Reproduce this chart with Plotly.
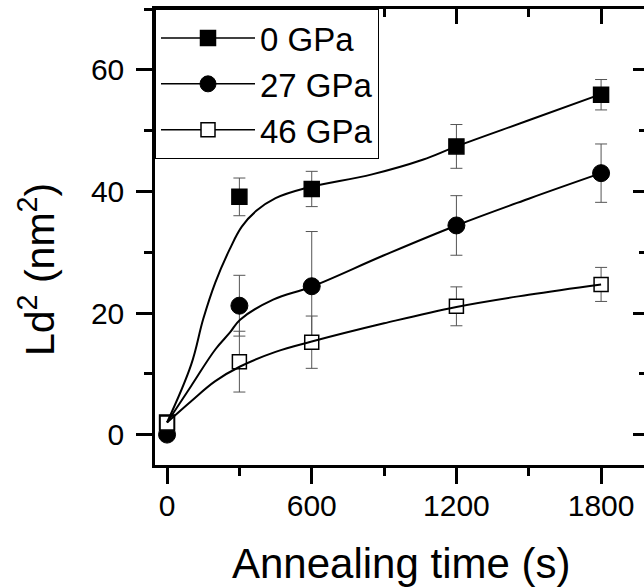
import plotly.graph_objects as go

# ---- data ----
series_names = ["0 GPa", "27 GPa", "46 GPa"]
time_s = [0, 300, 600, 1200, 1800]

ld2_0gpa = [2.0, 39.1, 40.4, 47.4, 55.9]
err_0gpa = [0.0, 3.1, 2.9, 3.6, 2.5]
ld2_27gpa = [0.0, 21.2, 24.4, 34.4, 43.0]
err_27gpa = [0.0, 5.0, 9.0, 4.9, 4.8]
ld2_46gpa = [1.9, 12.0, 15.2, 21.1, 24.7]
err_46gpa = [0.0, 5.0, 4.3, 3.2, 2.8]

# fitted guide curves
fit_x_0gpa = [0, 100, 150, 200, 260, 310, 370, 450, 580, 850, 1060, 1200, 1500, 1800]
fit_y_0gpa = [2, 11.5, 19, 25, 30.5, 34.2, 36.8, 38.9, 40.6, 42.8, 45.2, 47.4, 51.7, 56]
fit_x_27gpa = [0, 100, 200, 261, 303, 440, 597, 900, 1200, 1500, 1800]
fit_y_27gpa = [2, 8, 14, 16.8, 18.9, 22.2, 24.3, 29.5, 34.4, 38.8, 43]
fit_x_46gpa = [0, 100, 200, 303, 450, 600, 900, 1200, 1500, 1800]
fit_y_46gpa = [2, 5.5, 8.8, 11.2, 13.6, 15.3, 18.3, 21, 23, 24.7]

x_ticks = [0, 600, 1200, 1800]
y_ticks = [0, 20, 40, 60]

FONT = "Liberation Sans, Arial, sans-serif"
ERR_COLOR = "#555555"

styles = [
    dict(symbol="square", size=15, color="black", line=dict(color="black", width=1.5)),
    dict(symbol="circle", size=17, color="black", line=dict(color="black", width=1)),
    dict(symbol="square", size=14, color="white", line=dict(color="black", width=1.5)),
]
ys = [ld2_0gpa, ld2_27gpa, ld2_46gpa]
errs = [err_0gpa, err_27gpa, err_46gpa]
fits = [(fit_x_0gpa, fit_y_0gpa), (fit_x_27gpa, fit_y_27gpa), (fit_x_46gpa, fit_y_46gpa)]

fig = go.Figure()

# markers with error bars
for name, y, e, st in zip(series_names, ys, errs, styles):
    fig.add_trace(go.Scatter(
        x=time_s, y=y, mode="markers", marker=st, showlegend=False,
        error_y=dict(type="data", array=e, visible=True, color=ERR_COLOR, thickness=1, width=6),
        cliponaxis=False,
    ))

# fitted curves
for (fx, fy) in fits:
    fig.add_trace(go.Scatter(
        x=fx, y=fy, mode="lines", line=dict(color="black", width=2, shape="spline", smoothing=1.1),
        showlegend=False, hoverinfo="skip",
    ))

# legend entries
for name, st in zip(series_names, styles):
    fig.add_trace(go.Scatter(
        x=[None], y=[None], mode="lines+markers", name=name,
        marker=st, line=dict(color="black", width=1.5),
    ))

# invisible trace on mirrored axes so they render
fig.add_trace(go.Scatter(x=[None], y=[None], xaxis="x2", yaxis="y2", showlegend=False))

fig.update_layout(
    width=644, height=588,
    margin=dict(l=155, r=0, t=9, b=123),
    paper_bgcolor="white", plot_bgcolor="white",
    font=dict(family=FONT, color="black", size=30),
    showlegend=True,
    legend=dict(
        x=0, y=1, xanchor="left", yanchor="top",
        bgcolor="white", bordercolor="black", borderwidth=1,
        font=dict(size=33, family=FONT), itemwidth=94,
        tracegroupgap=0,
    ),
    xaxis=dict(
        range=[-50, 1978], tickvals=x_ticks, showgrid=False, zeroline=False,
        showline=True, linecolor="black", linewidth=2.5,
        ticks="outside", ticklen=16, tickwidth=2.5, tickcolor="black",
        tickfont=dict(size=30, family=FONT), ticklabelstandoff=-4,
        minor=dict(dtick=300, tick0=0, ticks="outside", ticklen=8, tickwidth=2.5, tickcolor="black", showgrid=False),
    ),
    yaxis=dict(
        range=[-5, 70], tickvals=y_ticks, showgrid=False, zeroline=False,
        showline=True, linecolor="black", linewidth=2.5,
        ticks="outside", ticklen=16, tickwidth=2.5, tickcolor="black",
        tickfont=dict(size=30, family=FONT), ticklabelstandoff=6,
        minor=dict(dtick=10, tick0=0, ticks="outside", ticklen=8, tickwidth=2.5, tickcolor="black", showgrid=False),
    ),
    xaxis2=dict(
        overlaying="x", side="top", range=[-50, 1978], tickvals=x_ticks, showticklabels=False,
        showgrid=False, zeroline=False, showline=True, linecolor="black", linewidth=2.5,
        ticks="inside", ticklen=15, tickwidth=2.5, tickcolor="black",
        minor=dict(dtick=300, tick0=0, ticks="inside", ticklen=8, tickwidth=2.5, tickcolor="black", showgrid=False),
    ),
    yaxis2=dict(
        overlaying="y", side="right", range=[-5, 70], tickvals=y_ticks, showticklabels=False,
        showgrid=False, zeroline=False, showline=False,
        ticks="inside", ticklen=11, tickwidth=2.5, tickcolor="black",
        minor=dict(dtick=10, tick0=0, ticks="inside", ticklen=5, tickwidth=2.5, tickcolor="black", showgrid=False),
    ),
    annotations=[
        dict(
            text="Ld<sup>2</sup> (nm<sup>2</sup>)", textangle=-90, showarrow=False,
            xref="paper", yref="paper", x=(37 - 155) / 489, y=(465 - 270) / 456,
            xanchor="center", yanchor="middle", font=dict(size=41, family=FONT),
        ),
        dict(
            text="Annealing time (s)", showarrow=False,
            xref="paper", yref="paper", x=(401 - 155) / 489, y=(465 - 563) / 456,
            xanchor="center", yanchor="middle", font=dict(size=42, family=FONT),
        ),
    ],
)

fig.write_html("out.html")
